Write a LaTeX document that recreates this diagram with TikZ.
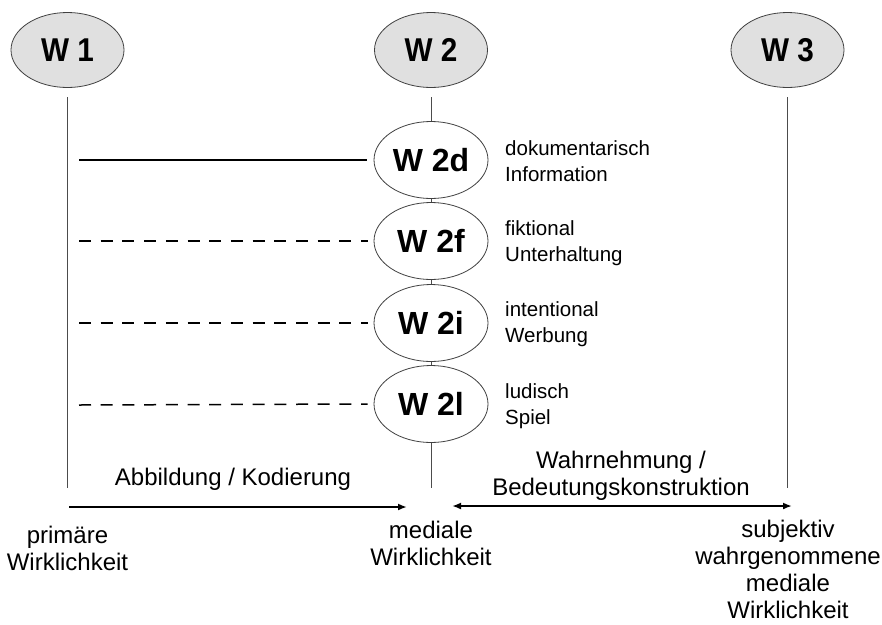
\documentclass[tikz,border=0pt]{standalone}
\usepackage{fontspec}
\setmainfont{Liberation Sans}
\newfontfamily\worldfont{Liberation Sans Bold}[FakeStretch=0.9]
\usetikzlibrary{shapes.geometric,arrows.meta}
\begin{document}
\begin{tikzpicture}[x=1pt,y=-1pt,
  world/.style={ellipse,draw=black!75,line width=0.8pt,minimum width=113pt,
    minimum height=75pt,inner sep=0pt,font=\worldfont\fontsize{33}{33}\selectfont},
  topworld/.style={world,fill=black!12},
  subworld/.style={world,fill=white,minimum width=114pt,minimum height=77pt,
    font=\fontsize{32}{32}\selectfont\bfseries},
  axis/.style={draw=black!70,line width=0.8pt},
  link/.style={line width=1.8pt},
  dlink/.style={line width=1.5pt,dash pattern=on 12pt off 9.7pt},
  kind/.style={anchor=west,align=left,inner sep=0pt,font=\fontsize{20.5}{25.5}\selectfont},
  caption/.style={align=center,inner sep=0pt,font=\fontsize{24}{27}\selectfont},
  flow/.style={line width=1.8pt,-{Latex[length=9pt,width=7pt]}},
  bothflow/.style={line width=1.8pt,{Latex[length=9pt,width=7pt]}-{Latex[length=9pt,width=7pt]}},
]
\useasboundingbox (0,0) rectangle (882,624);

% the three worlds
\node[topworld] (w1) at (67.5,50) {W 1};
\node[topworld] (w2) at (431,50) {W 2};
\node[topworld] (w3) at (787.5,50) {W 3};

% the four kinds of medial reality
\node[subworld] (w2d) at (431,160) {W 2d};
\node[subworld] (w2f) at (431,241) {W 2f};
\node[subworld] (w2i) at (431,323) {W 2i};
\node[subworld] (w2l) at (431,404) {W 2l};

% vertical axes
\coordinate (w1top) at (67.5,97);
\coordinate (w1bot) at (67.5,488);
\coordinate (w2top) at (431,97);
\coordinate (w2bot) at (431,488);
\coordinate (w3top) at (787.5,97);
\coordinate (w3bot) at (787.5,488);
\draw[axis] (w1top) -- (w1bot);
\draw[axis] (w3top) -- (w3bot);
\draw[axis] (w2top) -- (w2d.north);
\draw[axis] (w2d.south) -- (w2f.north);
\draw[axis] (w2f.south) -- (w2i.north);
\draw[axis] (w2i.south) -- (w2l.north);
\draw[axis] (w2l.south) -- (w2bot);

% links from the primary reality
\coordinate (ld) at (79,160);
\coordinate (lf) at (79,241);
\coordinate (li) at (79,323);
\coordinate (ll) at (79,405);
\draw[link] (ld) -- ([xshift=-7pt]w2d.west);
\draw[dlink] (lf) -- ([xshift=-6pt]w2f.west);
\draw[dlink] (li) -- ([xshift=-6pt]w2i.west);
\draw[dlink] (ll) -- ([xshift=-6pt]w2l.west);

% descriptions
\node[kind] (kd) at (505,161) {dokumentarisch\\Information};
\node[kind] (kf) at (505,243) {fiktional\\Unterhaltung};
\node[kind] (ki) at (505,324) {intentional\\Werbung};
\node[kind] (kl) at (505,406) {ludisch\\Spiel};

% processes
\coordinate (a1) at (69,507);
\coordinate (a2) at (407,507);
\coordinate (b1) at (452,506);
\coordinate (b2) at (792,506);
\draw[flow] (a1) -- (a2);
\draw[bothflow] (b1) -- (b2);
\node[caption] (abb) at (233,479) {Abbildung / Kodierung};
\node[caption] (wahr) at (621,476) {Wahrnehmung /\\Bedeutungskonstruktion};

% captions of the realities
\node[caption] (c1) at (67.5,548) {primäre\\Wirklichkeit};
\node[caption] (c2) at (431,543) {mediale\\Wirklichkeit};
\node[caption] (c3) at (788,569) {subjektiv\\wahrgenommene\\mediale\\Wirklichkeit};
\end{tikzpicture}
\end{document}
